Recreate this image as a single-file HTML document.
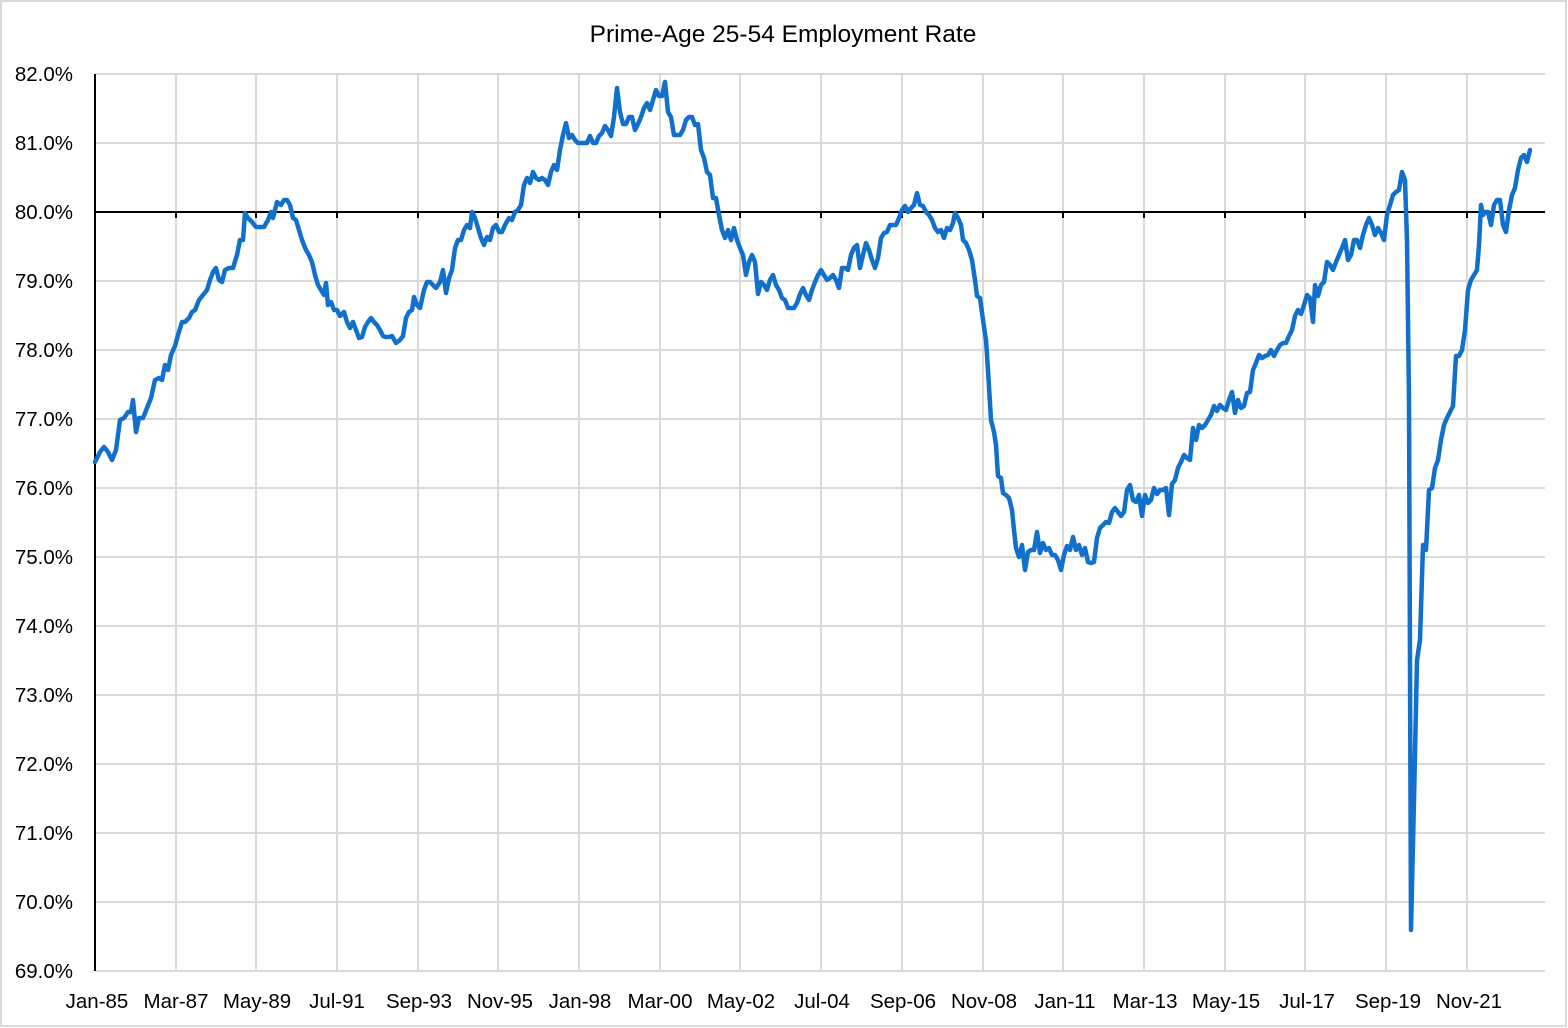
<!DOCTYPE html>
<html><head><meta charset="utf-8"><style>
html,body{margin:0;padding:0;background:#fff;}
svg{display:block;font-family:"Liberation Sans",sans-serif;}
</style></head><body>
<svg width="1568" height="1028" viewBox="0 0 1568 1028" xmlns="http://www.w3.org/2000/svg">
<rect x="1" y="1" width="1565" height="1025" fill="#fff" stroke="#d9d9d9" stroke-width="2"/>
<text x="783" y="42" font-size="24.5" text-anchor="middle" fill="#000">Prime-Age 25-54 Employment Rate</text>
<g stroke="#d9d9d9" stroke-width="2">
<line x1="95" y1="74" x2="1545" y2="74"/><line x1="95" y1="143" x2="1545" y2="143"/><line x1="95" y1="281" x2="1545" y2="281"/><line x1="95" y1="350" x2="1545" y2="350"/><line x1="95" y1="419" x2="1545" y2="419"/><line x1="95" y1="488" x2="1545" y2="488"/><line x1="95" y1="557" x2="1545" y2="557"/><line x1="95" y1="626" x2="1545" y2="626"/><line x1="95" y1="695" x2="1545" y2="695"/><line x1="95" y1="764" x2="1545" y2="764"/><line x1="95" y1="833" x2="1545" y2="833"/><line x1="95" y1="902" x2="1545" y2="902"/><line x1="95" y1="971" x2="1545" y2="971"/>
<line x1="176" y1="74" x2="176" y2="971"/><line x1="256" y1="74" x2="256" y2="971"/><line x1="337" y1="74" x2="337" y2="971"/><line x1="418" y1="74" x2="418" y2="971"/><line x1="498" y1="74" x2="498" y2="971"/><line x1="579" y1="74" x2="579" y2="971"/><line x1="660" y1="74" x2="660" y2="971"/><line x1="740" y1="74" x2="740" y2="971"/><line x1="821" y1="74" x2="821" y2="971"/><line x1="902" y1="74" x2="902" y2="971"/><line x1="983" y1="74" x2="983" y2="971"/><line x1="1063" y1="74" x2="1063" y2="971"/><line x1="1144" y1="74" x2="1144" y2="971"/><line x1="1225" y1="74" x2="1225" y2="971"/><line x1="1305" y1="74" x2="1305" y2="971"/><line x1="1386" y1="74" x2="1386" y2="971"/><line x1="1467" y1="74" x2="1467" y2="971"/>
</g>
<line x1="95" y1="74" x2="95" y2="971" stroke="#000" stroke-width="2"/>
<line x1="95" y1="212" x2="1545" y2="212" stroke="#000" stroke-width="2"/>
<g stroke="#000" stroke-width="2">
<line x1="176" y1="212" x2="176" y2="218"/><line x1="256" y1="212" x2="256" y2="218"/><line x1="337" y1="212" x2="337" y2="218"/><line x1="418" y1="212" x2="418" y2="218"/><line x1="498" y1="212" x2="498" y2="218"/><line x1="579" y1="212" x2="579" y2="218"/><line x1="660" y1="212" x2="660" y2="218"/><line x1="740" y1="212" x2="740" y2="218"/><line x1="821" y1="212" x2="821" y2="218"/><line x1="902" y1="212" x2="902" y2="218"/><line x1="983" y1="212" x2="983" y2="218"/><line x1="1063" y1="212" x2="1063" y2="218"/><line x1="1144" y1="212" x2="1144" y2="218"/><line x1="1225" y1="212" x2="1225" y2="218"/><line x1="1305" y1="212" x2="1305" y2="218"/><line x1="1386" y1="212" x2="1386" y2="218"/><line x1="1467" y1="212" x2="1467" y2="218"/>
</g>
<g font-size="20.5" text-anchor="end" fill="#000">
<text x="73" y="81">82.0%</text><text x="73" y="150">81.0%</text><text x="73" y="219">80.0%</text><text x="73" y="288">79.0%</text><text x="73" y="357">78.0%</text><text x="73" y="426">77.0%</text><text x="73" y="495">76.0%</text><text x="73" y="564">75.0%</text><text x="73" y="633">74.0%</text><text x="73" y="702">73.0%</text><text x="73" y="771">72.0%</text><text x="73" y="840">71.0%</text><text x="73" y="909">70.0%</text><text x="73" y="978">69.0%</text>
</g>
<g font-size="20.5" text-anchor="middle" fill="#000">
<text x="97" y="1008">Jan-85</text><text x="176" y="1008">Mar-87</text><text x="257" y="1008">May-89</text><text x="337" y="1008">Jul-91</text><text x="419" y="1008">Sep-93</text><text x="500" y="1008">Nov-95</text><text x="580" y="1008">Jan-98</text><text x="660" y="1008">Mar-00</text><text x="741" y="1008">May-02</text><text x="822" y="1008">Jul-04</text><text x="903" y="1008">Sep-06</text><text x="984" y="1008">Nov-08</text><text x="1065" y="1008">Jan-11</text><text x="1145" y="1008">Mar-13</text><text x="1226" y="1008">May-15</text><text x="1307" y="1008">Jul-17</text><text x="1388" y="1008">Sep-19</text><text x="1469" y="1008">Nov-21</text>
</g>
<polyline fill="none" stroke="#1170cc" stroke-width="4.5" stroke-linejoin="round" stroke-linecap="round" points="95,462 100,452 104,447 108,452 112,460 116,450 120,420 124,418 128,412 131,412 133,400 136,432 139,418 143,418 147,408 151,398 155,380 159,378 162,380 165,365 168,370 171,355 175,346 178,335 182,322 185,322 189,318 192,312 195,310 199,300 203,295 207,290 210,280 213,272 216,268 219,280 222,282 225,270 229,268 233,268 237,255 240,240 243,240 245,213 248,218 252,222 256,227 260,227 264,227 268,220 271,212 273,218 277,202 281,205 284,200 287,200 290,205 293,218 296,220 299,230 302,240 306,250 309,255 312,262 315,275 318,285 321,290 324,295 326,283 328,305 331,302 334,310 337,310 340,316 344,312 347,322 350,328 353,322 356,330 359,338 362,337 365,327 368,322 371,318 374,322 377,325 380,330 383,336 386,337 389,337 392,336 396,343 400,340 403,336 406,318 409,312 412,310 414,297 417,305 420,308 424,290 427,282 430,282 433,285 436,288 440,282 443,270 446,293 449,278 452,270 455,248 458,240 461,240 464,230 467,225 470,228 472,212 475,218 478,228 481,238 484,245 487,237 490,240 493,228 496,225 499,232 502,232 505,225 509,218 512,220 515,212 518,210 521,205 524,185 527,178 530,183 533,172 536,178 539,180 542,178 545,180 548,185 551,172 554,165 557,170 560,150 563,135 566,123 569,138 572,135 575,140 578,143 581,143 584,143 587,143 590,136 593,143 596,143 599,136 602,133 605,126 608,130 611,136 614,117 617,88 620,112 623,124 626,124 629,117 632,117 635,130 638,124 641,117 644,108 647,103 650,110 653,100 656,90 659,96 662,96 665,82 668,112 671,117 674,135 677,135 680,135 683,130 686,120 689,117 692,117 695,125 698,124 701,150 704,158 707,172 710,175 713,198 716,198 719,215 722,230 725,238 728,230 731,240 734,228 737,240 740,248 743,255 746,275 749,262 752,255 755,262 758,294 761,282 764,285 767,290 770,280 773,275 776,285 779,290 782,298 785,300 788,308 791,308 794,308 797,303 800,294 803,288 806,295 809,300 812,290 815,282 818,275 821,270 824,275 827,280 830,278 833,275 836,280 839,288 842,268 845,268 848,270 851,255 854,248 857,245 860,268 863,255 866,243 869,250 872,260 875,268 878,258 881,238 884,233 887,232 890,225 893,225 896,225 899,218 902,210 905,206 908,212 911,208 914,205 917,193 920,205 923,206 926,212 929,215 932,220 935,228 938,232 941,230 944,238 947,228 950,230 953,223 955,213 958,218 961,225 963,240 966,243 969,250 972,260 975,280 977,296 980,298 983,320 986,340 988,370 991,420 994,432 996,445 998,476 1001,478 1003,493 1006,495 1009,498 1012,510 1014,530 1016,548 1019,557 1022,545 1025,570 1028,552 1031,550 1034,550 1037,532 1040,553 1043,543 1046,550 1049,548 1052,555 1055,555 1058,560 1061,570 1064,555 1067,546 1070,550 1073,537 1076,550 1079,545 1082,555 1085,548 1088,562 1091,563 1094,562 1097,538 1100,528 1103,525 1106,522 1109,523 1112,512 1115,508 1118,512 1121,516 1124,512 1127,490 1130,485 1133,500 1136,502 1139,495 1142,516 1145,495 1148,503 1151,500 1154,488 1157,494 1160,490 1163,490 1166,488 1169,515 1172,484 1175,480 1178,468 1181,462 1184,455 1187,458 1190,460 1193,428 1196,440 1199,425 1202,428 1205,425 1208,420 1211,415 1214,406 1217,411 1220,405 1223,408 1226,410 1229,400 1232,392 1235,413 1238,400 1241,408 1244,406 1247,393 1250,392 1253,370 1256,363 1259,355 1262,358 1265,356 1268,355 1271,350 1274,356 1277,350 1280,345 1283,343 1286,343 1289,336 1292,330 1295,316 1298,310 1301,314 1304,305 1307,295 1310,298 1313,322 1315,285 1318,296 1321,285 1324,282 1327,262 1330,265 1333,270 1336,262 1339,255 1342,248 1345,240 1348,260 1351,255 1354,240 1357,240 1360,248 1363,235 1366,225 1369,218 1372,225 1375,235 1378,228 1381,233 1384,240 1387,215 1390,205 1393,195 1396,192 1399,190 1402,172 1405,180 1407,240 1409,400 1411,930 1414,800 1417,660 1420,640 1423,545 1426,550 1429,490 1432,488 1435,468 1438,460 1441,440 1444,425 1447,418 1450,412 1453,406 1456,356 1459,356 1462,350 1465,330 1468,290 1471,280 1474,275 1477,270 1479,245 1481,205 1483,215 1485,212 1488,212 1491,225 1494,205 1497,200 1500,200 1503,225 1506,232 1509,210 1512,195 1515,188 1518,170 1521,158 1524,155 1527,162 1530,150"/>
</svg>
</body></html>
